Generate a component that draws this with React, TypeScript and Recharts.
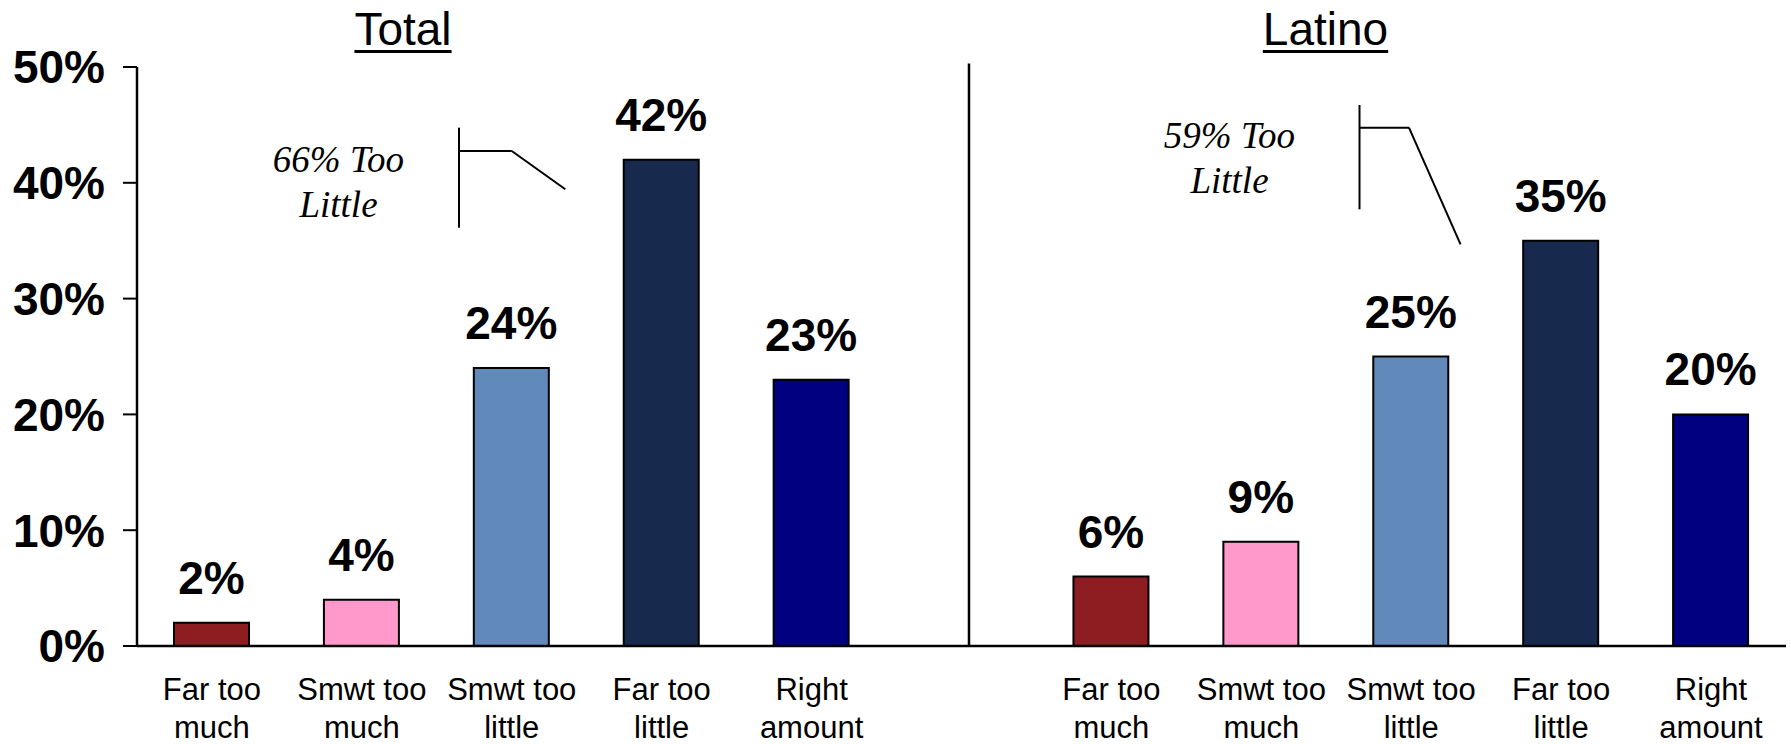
import React from "react";
import {
  BarChart,
  Bar,
  Cell,
  XAxis,
  YAxis,
  LabelList,
  ReferenceLine,
} from "recharts";

// answer categories, shown once for each group
const categories = [
  "Far too much",
  "Smwt too much",
  "Smwt too little",
  "Far too little",
  "Right amount",
];
const categoryLines = [
  ["Far too", "much"],
  ["Smwt too", "much"],
  ["Smwt too", "little"],
  ["Far too", "little"],
  ["Right", "amount"],
];
const totalValues = [2, 4, 24, 42, 23];
const latinoValues = [6, 9, 25, 35, 20];
const barColors = ["#8E1D22", "#FF99CC", "#618ABB", "#172A4E", "#000080"];
const yTicks = [0, 10, 20, 30, 40, 50];

// group titles and the "too little" notes
const groupTitles = ["Total", "Latino"];
const noteLines = [
  ["66% Too", "Little"],
  ["59% Too", "Little"],
];

const FONT = "'Liberation Sans', Arial, sans-serif";

// one row per slot, with an empty slot between the two groups
const rows = [
  ...totalValues.map((v, i) => ({
    key: `t${i}`,
    name: categories[i],
    value: v,
    color: barColors[i],
    lines: categoryLines[i],
  })),
  { key: "gap", name: "", value: null, color: "none", lines: [] as string[] },
  ...latinoValues.map((v, i) => ({
    key: `l${i}`,
    name: categories[i],
    value: v,
    color: barColors[i],
    lines: categoryLines[i],
  })),
];

const linesByKey: Record<string, string[]> = {};
rows.forEach((r) => (linesByKey[r.key] = r.lines));

const XTick = ({ x, y, payload }: any) => {
  const lines = linesByKey[payload.value] || [];
  return (
    <g>
      {lines.map((t, i) => (
        <text
          key={i}
          x={x}
          y={y + 54 + i * 38}
          textAnchor="middle"
          fill="#000"
          fontSize={31}
          fontFamily={FONT}
        >
          {t}
        </text>
      ))}
    </g>
  );
};

const ValueLabel = ({ x, y, width, value }: any) => {
  if (value == null) return null;
  return (
    <text
      x={x + width / 2}
      y={y - 29}
      textAnchor="middle"
      fill="#000"
      fontSize={46}
      fontWeight="bold"
      fontFamily={FONT}
    >
      {value}%
    </text>
  );
};

// bracket strokes in slot units (x) and percent (y)
const brackets = [
  [
    [{ x: 2.148, y: 44.76 }, { x: 2.148, y: 36.12 }],
    [{ x: 2.148, y: 42.75 }, { x: 2.5, y: 42.75 }],
    [{ x: 2.5, y: 42.75 }, { x: 2.857, y: 39.44 }],
  ],
  [
    [{ x: 8.155, y: 46.72 }, { x: 8.155, y: 37.71 }],
    [{ x: 8.155, y: 44.76 }, { x: 8.485, y: 44.76 }],
    [{ x: 8.485, y: 44.76 }, { x: 8.829, y: 34.69 }],
  ],
];
const divider = [{ x: 5.55, y: 0 }, { x: 5.55, y: 50.3 }];

export default function App() {
  return (
    <div
      style={{
        position: "absolute",
        left: 0,
        top: 0,
        width: 1791,
        height: 744,
        background: "#fff",
      }}
    >
      <BarChart
        width={1791}
        height={744}
        data={rows}
        margin={{ top: 67, right: 5, left: 0, bottom: 0 }}
      >
        <XAxis
          dataKey="key"
          height={98}
          axisLine={{ stroke: "#000", strokeWidth: 2.5 }}
          tickLine={false}
          tickSize={0}
          tickMargin={0}
          interval={0}
          tick={<XTick />}
        />
        <XAxis
          xAxisId="n"
          dataKey="slot"
          type="number"
          scale="linear"
          domain={[0, 11]}
          allowDataOverflow
          hide
        />
        <YAxis
          width={137}
          domain={[0, 50]}
          ticks={yTicks}
          interval={0}
          tickFormatter={(v) => `${v}%`}
          axisLine={{ stroke: "#000", strokeWidth: 2.5 }}
          tickLine={{ stroke: "#000", strokeWidth: 2 }}
          tickSize={14}
          tickMargin={18}
          tick={{
            fill: "#000",
            fontSize: 46,
            fontWeight: "bold",
            fontFamily: FONT,
          }}
        />
        <Bar
          dataKey="value"
          barSize={75}
          stroke="#000"
          strokeWidth={2}
          isAnimationActive={false}
        >
          {rows.map((r) => (
            <Cell key={r.key} fill={r.color} />
          ))}
          <LabelList dataKey="value" content={<ValueLabel />} />
        </Bar>
        <ReferenceLine
          xAxisId="n"
          segment={divider}
          stroke="#000"
          strokeWidth={2.5}
          ifOverflow="visible"
        />
        {brackets.flat().map((seg, i) => (
          <ReferenceLine
            key={i}
            xAxisId="n"
            segment={seg}
            stroke="#000"
            strokeWidth={2}
            ifOverflow="visible"
          />
        ))}
      </BarChart>

      {groupTitles.map((t, i) => (
        <div
          key={t}
          style={{
            position: "absolute",
            left: [403, 1325.5][i] - 150,
            top: 3,
            width: 300,
            textAlign: "center",
            fontFamily: FONT,
            fontSize: 46,
            lineHeight: "52px",
            color: "#000",
          }}
        >
          <span
            style={{
              textDecoration: "underline",
              textUnderlineOffset: "5px",
              textDecorationThickness: "3px",
            }}
          >
            {t}
          </span>
        </div>
      ))}

      {noteLines.map((lines, i) => (
        <div
          key={i}
          style={{
            position: "absolute",
            left: [338.5, 1229.5][i] - 150,
            top: [136.7, 113.3][i],
            width: 300,
            textAlign: "center",
            fontFamily: "'Liberation Serif', 'Times New Roman', serif",
            fontStyle: "italic",
            fontSize: 37,
            lineHeight: "45px",
            color: "#000",
          }}
        >
          {lines.map((l) => (
            <div key={l}>{l}</div>
          ))}
        </div>
      ))}
    </div>
  );
}
